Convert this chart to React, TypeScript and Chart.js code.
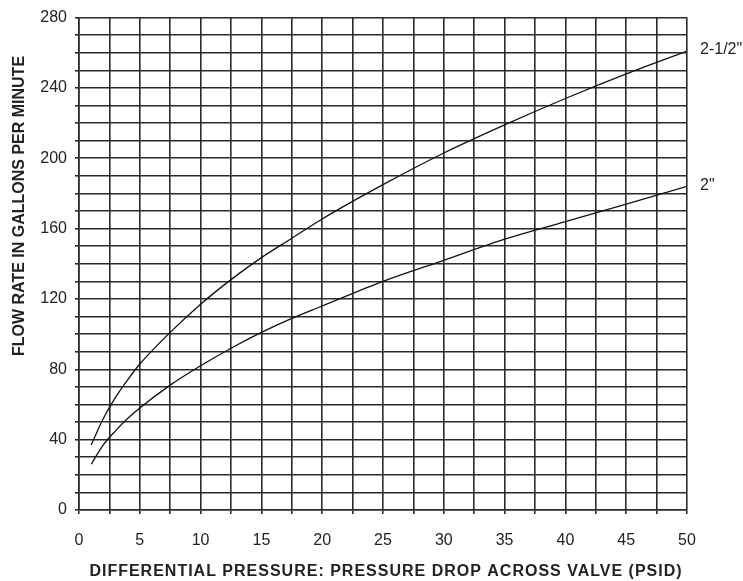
import React, { useEffect, useRef } from "react";
import { Chart, registerables } from "chart.js";

Chart.register(...registerables);

const pressure = [1, 2, 3, 4, 5, 7.5, 10, 12.5, 15, 17.5, 20, 25, 30, 35, 40, 45, 50];
const flow2half = [37, 52, 64, 74, 83, 101, 117, 131, 143.5, 154.5, 165.5, 185, 203, 219, 234, 248, 261];
const flow2 = [26, 37, 45, 52, 58, 71, 82, 92, 101, 109, 116, 130, 142, 154, 164, 174, 184];
const seriesLabels = ['2-1/2"', '2"'];
const xTitle = "DIFFERENTIAL PRESSURE: PRESSURE DROP ACROSS VALVE (PSID)";
const yTitle = "FLOW RATE IN GALLONS PER MINUTE";
const xLabelStep = 5;
const yLabelStep = 40;

const FONT = "'Liberation Sans', Arial, sans-serif";

const titlesPlugin = {
  id: "titlesPlugin",
  afterDraw(chart: any) {
    const ctx = chart.ctx;
    const xs = chart.scales.x;
    const ys = chart.scales.y;
    ctx.save();
    ctx.fillStyle = "#222";
    ctx.font = `16px ${FONT}`;
    ctx.textAlign = "left";
    ctx.textBaseline = "middle";
    chart.data.datasets.forEach((ds: any) => {
      const last = ds.data[ds.data.length - 1];
      ctx.fillText(ds.label, xs.getPixelForValue(last.x) + 13, ys.getPixelForValue(last.y) - 1);
    });
    ctx.font = `bold 16px ${FONT}`;
    ctx.textAlign = "center";
    ctx.textBaseline = "middle";
    ctx.save();
    (ctx as any).letterSpacing = "1px";
    ctx.fillText(xTitle, (xs.left + xs.right) / 2 + 3, 572);
    ctx.restore();
    ctx.translate(20, 206);
    ctx.rotate(-Math.PI / 2);
    ctx.fillText(yTitle, 0, 0);
    ctx.restore();
  },
};

export default function App() {
  const ref = useRef<HTMLCanvasElement | null>(null);
  useEffect(() => {
    document.body.style.margin = "0";
    const canvas = ref.current!;
    const chart = new Chart(canvas, {
      type: "line",
      data: {
        datasets: [
          {
            label: seriesLabels[0],
            data: pressure.map((p, i) => ({ x: p, y: flow2half[i] })),
            borderColor: "#111",
            borderWidth: 1.3,
            pointRadius: 0,
            cubicInterpolationMode: "monotone",
            fill: false,
          },
          {
            label: seriesLabels[1],
            data: pressure.map((p, i) => ({ x: p, y: flow2[i] })),
            borderColor: "#111",
            borderWidth: 1.3,
            pointRadius: 0,
            cubicInterpolationMode: "monotone",
            fill: false,
          },
        ],
      },
      options: {
        animation: false,
        responsive: false,
        layout: { padding: { left: 0, right: 56, top: 12, bottom: 0 } },
        plugins: { legend: { display: false }, tooltip: { enabled: false } },
        scales: {
          x: {
            type: "linear",
            min: 0,
            max: 50,
            afterFit: (s: any) => {
              s.height = 71;
            },
            ticks: {
              stepSize: 2.5,
              autoSkip: false,
              maxRotation: 0,
              padding: 17,
              color: "#222",
              font: { family: FONT, size: 16 },
              callback: (v: any) => (Number(v) % xLabelStep === 0 ? String(v) : ""),
            },
            grid: { color: "#2a2a2a", lineWidth: 1.6, tickLength: 4, drawTicks: true },
            border: { color: "#2a2a2a", width: 1.6 },
          },
          y: {
            type: "linear",
            min: 0,
            max: 280,
            afterFit: (s: any) => {
              s.width = 79;
            },
            ticks: {
              stepSize: 10,
              autoSkip: false,
              padding: 8,
              color: "#222",
              font: { family: FONT, size: 16 },
              callback: (v: any) => (Number(v) % yLabelStep === 0 ? String(v) : ""),
            },
            grid: { color: "#2a2a2a", lineWidth: 1.6, tickLength: 4, drawTicks: true },
            border: { color: "#2a2a2a", width: 1.6 },
          },
        },
      } as any,
      plugins: [titlesPlugin],
    });
    return () => chart.destroy();
  }, []);
  return (
    <div style={{ width: 743, height: 581, background: "#fff" }}>
      <canvas ref={ref} width={743} height={581} style={{ display: "block" }} />
    </div>
  );
}
